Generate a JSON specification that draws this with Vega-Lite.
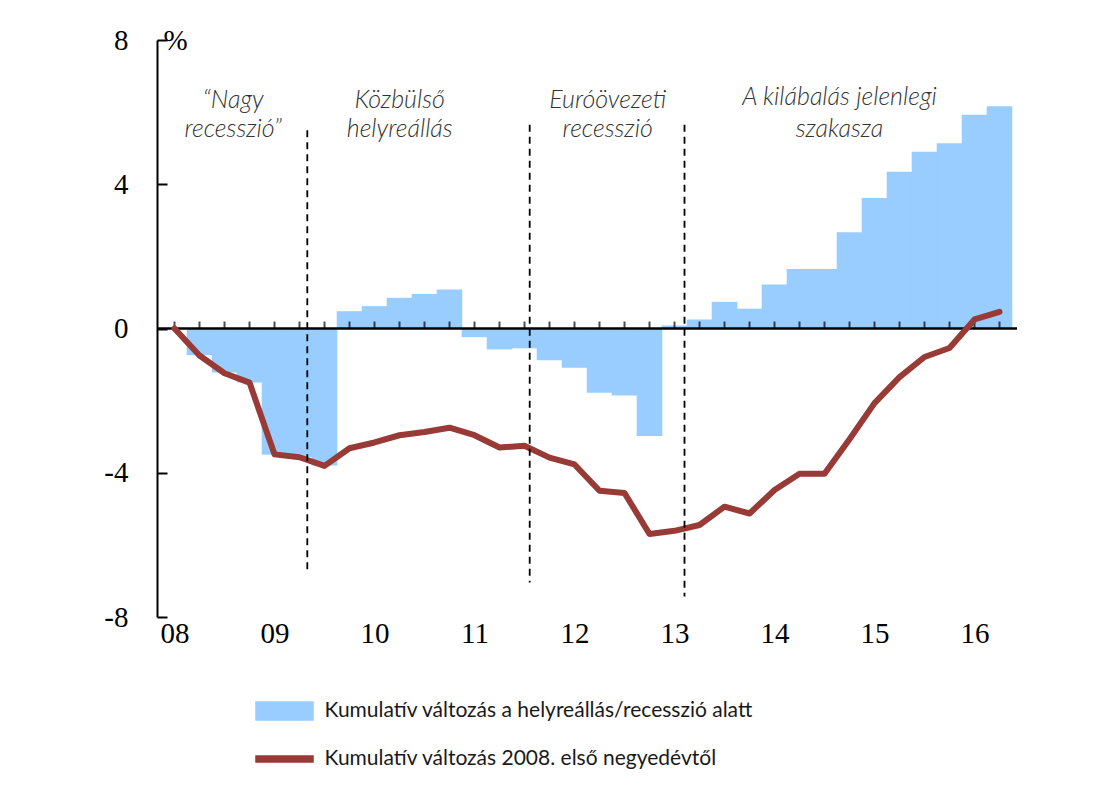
{
  "$schema": "https://vega.github.io/schema/vega-lite/v6.json",
  "width": 860,
  "height": 577,
  "autosize": "none",
  "padding": {"left": 157, "top": 40, "right": 85, "bottom": 174},
  "background": "white",
  "config": {
    "view": {"stroke": null},
    "axisX": {
      "domain": false, "ticks": false, "grid": false,
      "labelFont": "Liberation Serif", "labelFontSize": 29, "labelColor": "black",
      "labelPadding": 2
    },
    "axisY": {
      "domain": true, "domainColor": "black", "domainWidth": 2,
      "ticks": true, "tickSize": -10, "tickWidth": 2, "tickColor": "black",
      "labelFont": "Liberation Serif", "labelFontSize": 29, "labelColor": "black",
      "labelPadding": 39, "grid": false,
      "titleAngle": 0, "titleX": 6, "titleY": 0,
      "titleAlign": "left", "titleBaseline": "middle",
      "titleFont": "Liberation Serif", "titleFontSize": 29, "titleFontWeight": "normal", "titleColor": "black"
    }
  },
  "datasets": {
    "series": [
      {"t": 2008.00, "bar": 0, "line": 0},
      {"t": 2008.25, "bar": -0.74, "line": -0.75},
      {"t": 2008.50, "bar": -1.22, "line": -1.24},
      {"t": 2008.75, "bar": -1.50, "line": -1.50},
      {"t": 2009.00, "bar": -3.50, "line": -3.49},
      {"t": 2009.25, "bar": -3.56, "line": -3.57},
      {"t": 2009.50, "bar": -3.80, "line": -3.81},
      {"t": 2009.75, "bar": 0.48, "line": -3.32},
      {"t": 2010.00, "bar": 0.62, "line": -3.16},
      {"t": 2010.25, "bar": 0.85, "line": -2.96},
      {"t": 2010.50, "bar": 0.96, "line": -2.87},
      {"t": 2010.75, "bar": 1.08, "line": -2.75},
      {"t": 2011.00, "bar": -0.24, "line": -2.96},
      {"t": 2011.25, "bar": -0.58, "line": -3.30},
      {"t": 2011.50, "bar": -0.55, "line": -3.25},
      {"t": 2011.75, "bar": -0.88, "line": -3.58},
      {"t": 2012.00, "bar": -1.09, "line": -3.77},
      {"t": 2012.25, "bar": -1.78, "line": -4.50},
      {"t": 2012.50, "bar": -1.86, "line": -4.56},
      {"t": 2012.75, "bar": -2.98, "line": -5.70},
      {"t": 2013.00, "bar": 0.08, "line": -5.61},
      {"t": 2013.25, "bar": 0.25, "line": -5.45},
      {"t": 2013.50, "bar": 0.74, "line": -4.94},
      {"t": 2013.75, "bar": 0.55, "line": -5.13},
      {"t": 2014.00, "bar": 1.22, "line": -4.48},
      {"t": 2014.25, "bar": 1.65, "line": -4.03},
      {"t": 2014.50, "bar": 1.65, "line": -4.03},
      {"t": 2014.75, "bar": 2.67, "line": -3.07},
      {"t": 2015.00, "bar": 3.62, "line": -2.07},
      {"t": 2015.25, "bar": 4.35, "line": -1.35},
      {"t": 2015.50, "bar": 4.90, "line": -0.79},
      {"t": 2015.75, "bar": 5.14, "line": -0.54},
      {"t": 2016.00, "bar": 5.93, "line": 0.25},
      {"t": 2016.25, "bar": 6.16, "line": 0.46}
    ],
    "dividers": [
      {"t": 2009.328, "top": 5.5, "bottom": -6.74},
      {"t": 2011.552, "top": 5.65, "bottom": -7.04},
      {"t": 2013.100, "top": 5.65, "bottom": -7.43}
    ],
    "labels": [
      {"t": 2008.587, "v": 6.35, "label": "“Nagy"},
      {"t": 2008.587, "v": 5.52, "label": "recesszió”"},
      {"t": 2010.252, "v": 6.35, "label": "Közbülső"},
      {"t": 2010.252, "v": 5.52, "label": "helyreállás"},
      {"t": 2012.332, "v": 6.35, "label": "Euróövezeti"},
      {"t": 2012.332, "v": 5.52, "label": "recesszió"},
      {"t": 2014.650, "v": 6.42, "label": "A kilábalás jelenlegi"},
      {"t": 2014.650, "v": 5.52, "label": "szakasza"}
    ]
  },
  "layer": [
    {
      "data": {"name": "series"},
      "mark": {"type": "bar", "width": 25.6},
      "encoding": {
        "x": {
          "field": "t", "type": "quantitative", "title": null,
          "scale": {"domain": [2007.875, 2016.375], "nice": false, "zero": false},
          "axis": {
            "values": [2008, 2009, 2010, 2011, 2012, 2013, 2014, 2015, 2016],
            "labelExpr": "substring('' + datum.value, 2)"
          }
        },
        "y": {
          "field": "bar", "type": "quantitative", "title": "%",
          "scale": {"domain": [-8, 8], "nice": false},
          "axis": {
            "values": [-8, -4, 0, 4, 8],
            "labelExpr": "'' + datum.value"
          }
        },
        "color": {
          "datum": "Kumulatív változás a helyreállás/recesszió alatt",
          "type": "nominal",
          "scale": {
            "domain": ["Kumulatív változás a helyreállás/recesszió alatt", "Kumulatív változás 2008. első negyedévtől"],
            "range": ["#99CCFF", "#983A36"]
          },
          "legend": {
            "orient": "none", "legendX": 111.5, "legendY": 655,
            "title": null, "padding": 0,
            "symbolSize": 900, "rowPadding": 20, "labelOffset": 24,
            "labelFont": "Lato", "labelFontSize": 21, "labelColor": "#1a1a1a",
            "labelLimit": 800,
            "encode": {
              "symbols": {
                "update": {
                  "shape": {"signal": "datum.value === 'Kumulatív változás a helyreállás/recesszió alatt' ? 'M-1.9,-0.6H1.9V0.6H-1.9Z' : 'M-1.9,-0.2H1.9V0.2H-1.9Z'"},
                  "fill": {"scale": "color", "field": "value"},
                  "stroke": {"value": "transparent"},
                  "opacity": {"value": 1}
                }
              }
            }
          }
        }
      }
    },
    {
      "data": {"values": [{}]},
      "mark": {"type": "rule", "color": "black", "strokeWidth": 2.5},
      "encoding": {"y": {"datum": 0, "type": "quantitative", "title": "%"}}
    },
    {
      "data": {"name": "series"},
      "mark": {"type": "tick", "orient": "vertical", "color": "black", "size": 7, "thickness": 2, "yOffset": -3.5},
      "encoding": {
        "x": {"field": "t", "type": "quantitative", "title": null},
        "y": {"datum": 0, "type": "quantitative", "title": "%"}
      }
    },
    {
      "data": {"name": "series"},
      "mark": {"type": "line", "strokeWidth": 6, "strokeJoin": "round", "strokeCap": "round"},
      "encoding": {
        "x": {"field": "t", "type": "quantitative", "title": null},
        "y": {"field": "line", "type": "quantitative", "title": "%"},
        "color": {"datum": "Kumulatív változás 2008. első negyedévtől", "type": "nominal"}
      }
    },
    {
      "data": {"name": "dividers"},
      "mark": {"type": "rule", "color": "black", "strokeWidth": 1.8, "strokeDash": [7, 5]},
      "encoding": {
        "x": {"field": "t", "type": "quantitative", "title": null},
        "y": {"field": "top", "type": "quantitative", "title": "%"},
        "y2": {"field": "bottom"}
      }
    },
    {
      "data": {"name": "labels"},
      "mark": {"type": "text", "font": "Lato", "fontStyle": "italic", "fontWeight": 300, "fontSize": 25, "color": "#333333", "align": "center", "baseline": "middle"},
      "encoding": {
        "x": {"field": "t", "type": "quantitative", "title": null},
        "y": {"field": "v", "type": "quantitative", "title": "%"},
        "text": {"field": "label"}
      }
    }
  ]
}
